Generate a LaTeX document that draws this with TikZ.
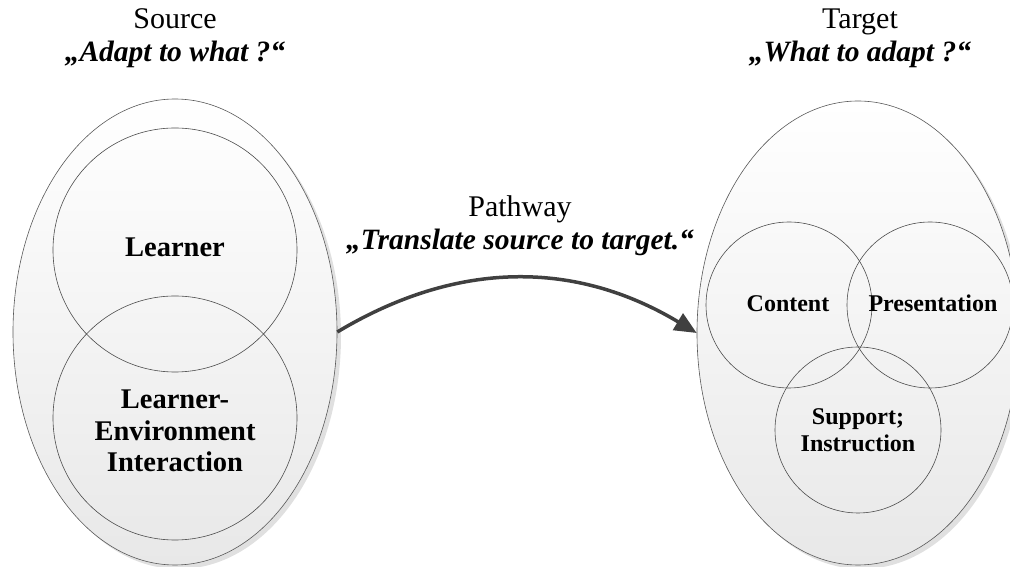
\documentclass[tikz,border=0pt]{standalone}
\usepackage{fontspec}
\setmainfont{Liberation Serif}
\usetikzlibrary{shapes.geometric,arrows.meta}
\tikzset{
  outerell/.style={ellipse, draw=black!65, line width=0.6pt, top color=white, bottom color=black!9, inner sep=0pt},
  shadowell/.style={ellipse, fill=black!12, draw=none, inner sep=0pt},
  vcircle/.style={circle, draw=black!70, line width=0.6pt, inner sep=0pt},
  bigbold/.style={font=\fontsize{28.5}{31.5}\selectfont\bfseries, align=center},
  smallbold/.style={font=\fontsize{24}{26.5}\selectfont\bfseries, align=center},
  headtxt/.style={font=\fontsize{30}{33}\selectfont, anchor=base},
  headit/.style={font=\fontsize{29.5}{33}\selectfont\bfseries\itshape, anchor=base},
  patharrow/.style={draw=black!75, line width=3.5pt, -{Triangle[length=22pt,width=19pt]}}
}
\begin{document}
\begin{tikzpicture}[x=1pt,y=1pt]
\useasboundingbox (0,0) rectangle (1010,567);
% shadows
\node[shadowell, minimum width=324pt, minimum height=466pt] (srcsh) at (179,231) {};
\node[shadowell, minimum width=322pt, minimum height=464pt] (tgtsh) at (862,230) {};
% outer ellipses
\node[outerell, minimum width=324pt, minimum height=466pt] (src) at (175,235) {};
\node[outerell, minimum width=322pt, minimum height=464pt] (tgt) at (858,234) {};
% source circles
\node[vcircle, minimum size=244pt] (learner) at (175,317) {};
\node[vcircle, minimum size=244pt] (lei) at (175,149) {};
\node[bigbold, anchor=base] (learnertxt) at (175,310) {Learner};
\node[bigbold] (leitxt) at (175,136) {Learner-\\Environment\\Interaction};
% target circles
\node[vcircle, minimum size=166pt] (content) at (789,262) {};
\node[vcircle, minimum size=166pt] (pres) at (930,262) {};
\node[vcircle, minimum size=166pt] (supp) at (858,137) {};
\node[smallbold, anchor=base] (contenttxt) at (788,255) {Content};
\node[smallbold, anchor=base] (prestxt) at (933,255) {Presentation};
\node[smallbold] (supptxt) at (858,137) {Support;\\Instruction};
% headings
\node[headtxt] (srchead) at (175,538) {Source};
\node[headit] (srcq) at (175,505) {„Adapt to what ?“};
\node[headtxt] (tgthead) at (860,538) {Target};
\node[headit] (tgtq) at (860,505) {„What to adapt ?“};
\node[headtxt] (pathhead) at (520,350) {Pathway};
\node[headit] (pathq) at (520,317) {„Translate source to target.“};
% arrow
\draw[patharrow] (src.east) to[out=31,in=149] (tgt.west);
\end{tikzpicture}
\end{document}
